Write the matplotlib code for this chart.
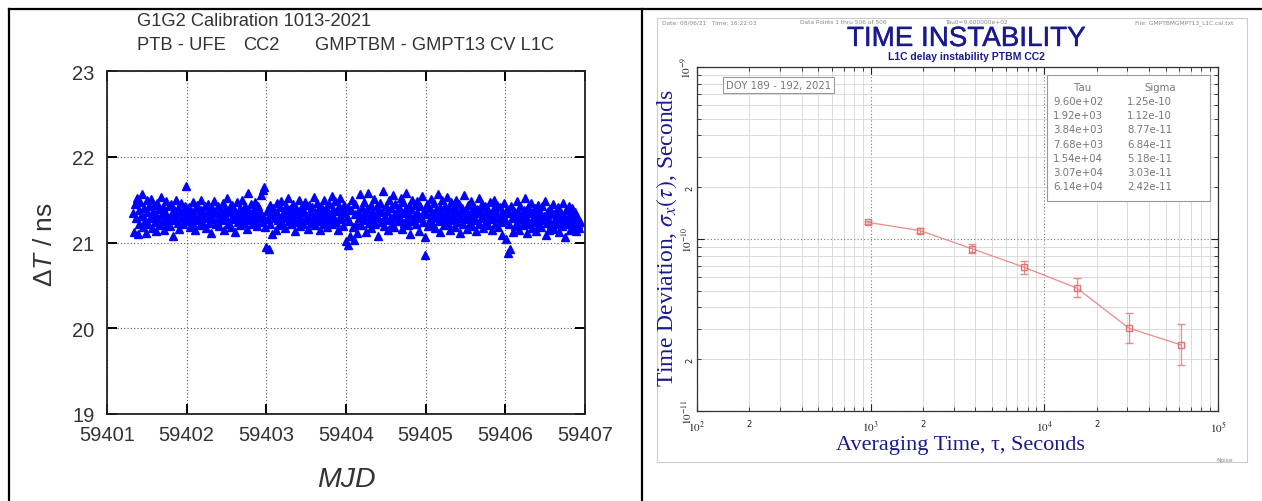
import matplotlib
matplotlib.use('Agg')
import matplotlib.pyplot as plt
import matplotlib.patheffects as pe
import numpy as np
from matplotlib.lines import Line2D
from matplotlib.patches import Rectangle
from matplotlib.ticker import FixedLocator, FixedFormatter, FuncFormatter

W, H = 1262, 502

plt.rcParams['mathtext.fontset'] = 'stix'
plt.rcParams['mathtext.rm'] = 'Liberation Sans'
plt.rcParams['mathtext.it'] = 'Liberation Sans:italic'

# G1G2 CV differences, one value per 960 s track
mjd_start = 59401.33
tau0_days = 960 / 86400
delta_t = [
    21.34, 21.12, 21.45, 21.28, 21.52, 21.10, 21.38, 21.21, 21.47, 21.31, 21.56, 21.18, 21.40, 21.26, 21.11, 21.49, 21.35, 21.22, 21.43, 21.29,
    21.51, 21.17, 21.37, 21.44, 21.24, 21.32, 21.13, 21.46, 21.28, 21.39, 21.20, 21.53, 21.33, 21.25, 21.41, 21.15, 21.36, 21.48, 21.27, 21.22,
    21.42, 21.30, 21.19, 21.45, 21.34, 21.08, 21.38, 21.26, 21.50, 21.31, 21.23, 21.40, 21.16, 21.35, 21.46, 21.28, 21.21, 21.37, 21.43, 21.25,
    21.66, 21.33, 21.27, 21.41, 21.18, 21.36, 21.29, 21.47, 21.22, 21.32, 21.14, 21.39, 21.44, 21.26, 21.31, 21.20, 21.38, 21.49, 21.24, 21.35,
    21.28, 21.42, 21.17, 21.33, 21.45, 21.23, 21.37, 21.30, 21.11, 21.40, 21.27, 21.48, 21.34, 21.21, 21.36, 21.25, 21.43, 21.19, 21.31, 21.38,
    21.26, 21.46, 21.33, 21.15, 21.39, 21.29, 21.52, 21.22, 21.35, 21.41, 21.18, 21.30, 21.44, 21.27, 21.37, 21.12, 21.34, 21.47, 21.24, 21.32,
    21.40, 21.20, 21.36, 21.49, 21.28, 21.23, 21.43, 21.31, 21.16, 21.38, 21.58, 21.26, 21.34, 21.45, 21.21, 21.30, 21.39, 21.25, 21.47, 21.33,
    21.19, 21.42, 21.29, 21.36, 21.55, 21.24, 21.61, 21.31, 21.65, 21.18, 20.95, 21.37, 21.27, 20.92, 21.44, 21.22, 21.33, 21.10, 21.40, 21.28,
    21.35, 21.14, 21.46, 21.26, 21.32, 21.20, 21.41, 21.48, 21.23, 21.30, 21.37, 21.17, 21.43, 21.29, 21.34, 21.52, 21.25, 21.39, 21.21, 21.31,
    21.45, 21.27, 21.36, 21.13, 21.40, 21.24, 21.33, 21.49, 21.19, 21.38, 21.28, 21.42, 21.22, 21.35, 21.47, 21.26, 21.31, 21.16, 21.44, 21.30,
    21.37, 21.23, 21.41, 21.29, 21.53, 21.20, 21.34, 21.46, 21.25, 21.38, 21.32, 21.14, 21.43, 21.27, 21.36, 21.50, 21.22, 21.30, 21.40, 21.18,
    21.35, 21.45, 21.26, 21.33, 21.54, 21.21, 21.39, 21.29, 21.48, 21.24, 21.37, 21.15, 21.42, 21.31, 21.52, 21.27, 21.36, 21.19, 21.44, 21.34,
    21.02, 21.30, 20.97, 21.41, 21.25, 21.07, 21.38, 21.49, 21.18, 21.03, 21.33, 21.45, 21.22, 21.11, 21.36, 21.28, 21.56, 21.20, 21.40, 21.31,
    21.26, 21.47, 21.34, 21.12, 21.39, 21.58, 21.23, 21.30, 21.44, 21.17, 21.36, 21.27, 21.51, 21.21, 21.33, 21.42, 21.08, 21.29, 21.38, 21.46,
    21.24, 21.35, 21.60, 21.19, 21.31, 21.43, 21.26, 21.37, 21.14, 21.49, 21.28, 21.40, 21.22, 21.55, 21.32, 21.18, 21.45, 21.30, 21.36, 21.25,
    21.41, 21.29, 21.52, 21.16, 21.34, 21.47, 21.23, 21.38, 21.58, 21.27, 21.20, 21.43, 21.33, 21.10, 21.39, 21.49, 21.25, 21.31, 21.44, 21.21,
    21.36, 21.48, 21.28, 21.13, 21.42, 21.30, 21.54, 21.24, 21.37, 21.06, 20.86, 21.33, 21.45, 21.19, 21.40, 21.27, 21.51, 21.22, 21.35, 21.29,
    21.46, 21.17, 21.38, 21.31, 21.56, 21.25, 21.41, 21.12, 21.34, 21.49, 21.28, 21.20, 21.43, 21.36, 21.53, 21.23, 21.30, 21.39, 21.15, 21.47,
    21.32, 21.26, 21.42, 21.18, 21.37, 21.50, 21.24, 21.33, 21.45, 21.11, 21.29, 21.40, 21.21, 21.35, 21.55, 21.27, 21.38, 21.16, 21.44, 21.30,
    21.23, 21.36, 21.48, 21.19, 21.32, 21.41, 21.26, 21.13, 21.39, 21.34, 21.52, 21.22, 21.37, 21.28, 21.45, 21.17, 21.31, 21.43, 21.25, 21.35,
    21.40, 21.20, 21.33, 21.47, 21.27, 21.14, 21.38, 21.30, 21.50, 21.22, 21.35, 21.44, 21.18, 21.29, 21.41, 21.24, 21.36, 21.09, 21.32, 21.46,
    21.26, 21.04, 21.39, 20.88, 21.21, 21.34, 20.93, 21.43, 21.28, 21.12, 21.37, 21.19, 21.31, 21.48, 21.23, 21.35, 21.15, 21.42, 21.27, 21.33,
    21.20, 21.38, 21.52, 21.25, 21.30, 21.11, 21.41, 21.22, 21.34, 21.46, 21.17, 21.29, 21.36, 21.24, 21.40, 21.13, 21.32, 21.44, 21.21, 21.28,
    21.35, 21.18, 21.42, 21.26, 21.31, 21.48, 21.09, 21.23, 21.37, 21.29, 21.14, 21.39, 21.20, 21.33, 21.45, 21.16, 21.27, 21.36, 21.22, 21.30,
    21.41, 21.12, 21.28, 21.34, 21.19, 21.46, 21.25, 21.31, 21.06, 21.38, 21.21, 21.29, 21.43, 21.15, 21.33, 21.24, 21.40, 21.18, 21.27, 21.35,
    21.13, 21.30, 21.22, 21.26, 21.17, 21.24,
]
mjd_ticks = [59401, 59402, 59403, 59404, 59405, 59406, 59407]
dt_ticks = [19, 20, 21, 22, 23]

# time deviation of the same record
tau = [9.60e+02, 1.92e+03, 3.84e+03, 7.68e+03, 1.54e+04, 3.07e+04, 6.14e+04]
tau_text = ['9.60e+02', '1.92e+03', '3.84e+03', '7.68e+03', '1.54e+04', '3.07e+04', '6.14e+04']
sigma = [1.25e-10, 1.12e-10, 8.77e-11, 6.84e-11, 5.18e-11, 3.03e-11, 2.42e-11]
sigma_text = ['1.25e-10', '1.12e-10', '8.77e-11', '6.84e-11', '5.18e-11', '3.03e-11', '2.42e-11']
sigma_lo = [1.22e-10, 1.08e-10, 8.30e-11, 6.30e-11, 4.60e-11, 2.50e-11, 1.85e-11]
sigma_hi = [1.28e-10, 1.16e-10, 9.30e-11, 7.40e-11, 5.90e-11, 3.70e-11, 3.20e-11]


def px_box(x0, y0, x1, y1):
    return [x0 / W, 1 - y1 / H, (x1 - x0) / W, (y1 - y0) / H]


def fx(x):
    return x / W


def fy(y):
    return 1 - y / H


fig = plt.figure(figsize=(W / 100, H / 100), dpi=100)

# table frame round the two panels
for xs, ys in [([9, W], [10, 10]), ([9, 9], [10, H]), ([642, 642], [10, H])]:
    fig.add_artist(Line2D([fx(v) for v in xs], [fy(v) for v in ys],
                          color='black', lw=1.6, transform=fig.transFigure))

# ---- left: calibration differences
ax1 = fig.add_axes(px_box(107, 72, 585, 415))
mjd = mjd_start + tau0_days * np.arange(len(delta_t))
ax1.plot(mjd, delta_t, ls='none', marker='^', ms=6.4, color='#0000ff')
ax1.set_xlim(59401, 59407)
ax1.set_ylim(19, 23)
ax1.set_xticks(mjd_ticks)
ax1.set_xticklabels([str(v) for v in mjd_ticks])
ax1.set_yticks(dt_ticks)
ax1.set_yticklabels([str(v) for v in dt_ticks])
ax1.grid(True, ls=(0, (1, 2)), color='#555555', lw=0.8)
ax1.tick_params(direction='in', length=7, width=1.4, top=True, right=True,
                labelsize=14.5, labelcolor='#333333')
ax1.tick_params(axis='x', pad=8)
ax1.tick_params(axis='y', pad=9)
for sp in ax1.spines.values():
    sp.set_linewidth(1.3)
    sp.set_color('#222222')
for lbl in ax1.get_xticklabels() + ax1.get_yticklabels():
    lbl.set_family('Liberation Sans')

title_kw = dict(ha='left', va='center', fontsize=13.2, color='#333333', family='Liberation Sans')
fig.text(fx(137), fy(22), 'G1G2 Calibration 1013-2021', **title_kw)
fig.text(fx(137), fy(46), 'PTB - UFE', **title_kw)
fig.text(fx(243), fy(46), 'CC2', **title_kw)
fig.text(fx(315), fy(46), 'GMPTBM - GMPT13 CV L1C', **title_kw)
ylab = fig.text(fx(45), fy(245), r'$\Delta\mathit{T}$ / ns', rotation=90, ha='center', va='center',
                fontsize=19, color='#333333', family='Liberation Sans')
ylab.set_math_fontfamily('custom')
fig.text(fx(346), fy(480), 'MJD', ha='center', va='center', fontsize=20.5,
         style='italic', color='#333333', family='Liberation Sans')

# ---- right: time deviation plot
fig.add_artist(Rectangle((fx(657), fy(463)), fx(1247 - 657), (463 - 19) / H,
                         fill=False, edgecolor='#cccccc', lw=0.8, transform=fig.transFigure))

hdr = dict(fontsize=4.2, color='#888888', va='center', family='DejaVu Sans')
fig.text(fx(662), fy(23), 'Date: 08/06/21   Time: 16:22:03', ha='left', **hdr)
fig.text(fx(800), fy(23), 'Data Points 1 thru 506 of 506', ha='left', **hdr)
fig.text(fx(945), fy(23), 'Tau0=9.600000e+02', ha='left', **hdr)
fig.text(fx(1233), fy(23), 'File: GMPTBMGMPT13_L1C.cal.txt', ha='right', **hdr)
fig.text(fx(1233), fy(461), 'Noise', ha='right', **hdr)

navy = '#1a1a90'
fig.text(fx(966), fy(40), 'TIME INSTABILITY', ha='center', va='center', fontsize=20,
         color=navy, family='Liberation Sans',
         path_effects=[pe.withStroke(linewidth=0.3, foreground=navy)])
fig.text(fx(966), fy(57), 'L1C delay instability PTBM CC2', ha='center', va='center',
         fontsize=7.5, weight='bold', color=navy, family='Liberation Sans')
fig.text(fx(960), fy(446), 'Averaging Time, τ, Seconds', ha='center', va='center',
         fontsize=16, color=navy, family='Liberation Serif')
fig.text(fx(667), fy(238), r'Time Deviation, $\sigma_x(\tau)$, Seconds', rotation=90,
         ha='center', va='center', fontsize=17, color=navy, family='Liberation Serif')

ax2 = fig.add_axes(px_box(697, 68, 1218, 412))
ax2.set_xscale('log')
ax2.set_yscale('log')
ax2.set_xlim(1e2, 1e5)
ax2.set_ylim(1e-11, 1e-9)

yerr = [np.array(sigma) - np.array(sigma_lo), np.array(sigma_hi) - np.array(sigma)]
ax2.errorbar(tau, sigma, yerr=yerr, color='#ec8a8a', lw=0.9, elinewidth=0.9,
             marker='s', ms=4, mfc='none', mec='#e07474', capsize=3, zorder=3)

ax2.xaxis.set_major_locator(FixedLocator([1e2, 1e3, 1e4, 1e5]))
ax2.xaxis.set_major_formatter(FixedFormatter([r'$10^{2}$', r'$10^{3}$', r'$10^{4}$', r'$10^{5}$']))
ax2.yaxis.set_major_locator(FixedLocator([1e-11, 1e-10, 1e-9]))
ax2.yaxis.set_major_formatter(FixedFormatter([r'$10^{-11}$', r'$10^{-10}$', r'$10^{-9}$']))
minor_x = [m * 10 ** e for e in (2, 3, 4) for m in range(2, 10)]
minor_y = [m * 10.0 ** e for e in (-11, -10) for m in range(2, 10)]
ax2.xaxis.set_minor_locator(FixedLocator(minor_x))
ax2.yaxis.set_minor_locator(FixedLocator(minor_y))


def two_only(v, pos):
    lead = v / 10 ** np.floor(np.log10(v) + 1e-9)
    return '2' if abs(lead - 2) < 1e-6 else ''


ax2.xaxis.set_minor_formatter(FuncFormatter(two_only))
ax2.yaxis.set_minor_formatter(FuncFormatter(two_only))

ax2.grid(which='minor', color='#d6d6d6', lw=0.6, ls='-')
ax2.grid(which='major', color='#7a7a7a', lw=0.8, ls=(0, (1, 2)))
ax2.tick_params(which='both', direction='in', top=True, right=True, labelsize=8,
                colors='#222222')
ax2.tick_params(which='major', length=5, width=0.8)
ax2.tick_params(which='minor', length=3, width=0.6, labelsize=6)
ax2.tick_params(axis='x', which='both', pad=6)
ax2.tick_params(axis='y', which='both', labelrotation=90, pad=2)
for lbl in ax2.get_yticklabels(which='both'):
    lbl.set_va('center')
for sp in ax2.spines.values():
    sp.set_linewidth(0.9)
    sp.set_color('#333333')

box_kw = dict(fontsize=7.3, color='#777777', family='DejaVu Sans')
ax2.text(0.056, 0.947, 'DOY 189 - 192, 2021', transform=ax2.transAxes, ha='left', va='center',
         bbox=dict(boxstyle='square,pad=0.3', fc='white', ec='#999999', lw=0.8), **box_kw)

# tau / sigma table
x0, x1 = (1047 - 697) / 521, (1210 - 697) / 521
y0, y1 = 1 - (202 - 68) / 344, 1 - (76 - 68) / 344
ax2.add_patch(Rectangle((x0, y0), x1 - x0, y1 - y0, transform=ax2.transAxes,
                        fc='white', ec='#999999', lw=0.8, zorder=4))
ax2.text((1083 - 697) / 521, 1 - (88 - 68) / 344, 'Tau', transform=ax2.transAxes,
         ha='center', va='center', zorder=5, **box_kw)
ax2.text((1160 - 697) / 521, 1 - (88 - 68) / 344, 'Sigma', transform=ax2.transAxes,
         ha='center', va='center', zorder=5, **box_kw)
for i in range(len(tau)):
    yy = 1 - (102 + 14.2 * i - 68) / 344
    ax2.text((1053 - 697) / 521, yy, tau_text[i], transform=ax2.transAxes,
             ha='left', va='center', zorder=5, **box_kw)
    ax2.text((1127 - 697) / 521, yy, sigma_text[i], transform=ax2.transAxes,
             ha='left', va='center', zorder=5, **box_kw)

fig.savefig('out.png', dpi=100)
